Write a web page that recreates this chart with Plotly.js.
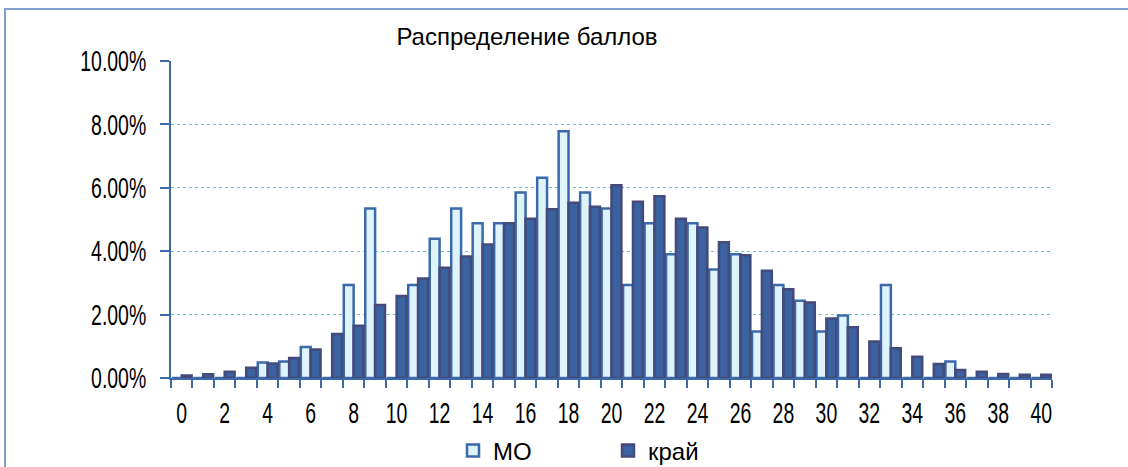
<!DOCTYPE html>
<html>
<head>
<meta charset="utf-8">
<script src="https://cdn.plot.ly/plotly-3.0.1.min.js"></script>
<style>
  body { margin: 0; background: #fff; }
  #wrap { position: relative; width: 1128px; height: 467px; }
  #plotArea { width: 1128px; height: 467px; }
  #frame { position: absolute; left: 4px; top: 8px; width: 1130px; height: 470px;
           border-top: 2px solid #7f9fcf; border-left: 2px solid #7f9fcf; pointer-events: none; }
</style>
</head>
<body>
<div id="wrap">
  <div id="plotArea"></div>
  <div id="frame"></div>
</div>
<script>
// баллы 0..40
var scores = [0, 1, 2, 3, 4, 5, 6, 7, 8, 9, 10, 11, 12, 13, 14, 15, 16, 17, 18, 19, 20,
              21, 22, 23, 24, 25, 26, 27, 28, 29, 30, 31, 32, 33, 34, 35, 36, 37, 38, 39, 40];

// доля участников, % (МО)
var moValues = [0, 0, 0, 0, 0.49, 0.52, 0.98, 0, 2.93, 5.35, 0, 2.93, 4.39, 5.35, 4.88, 4.88,
                5.85, 6.32, 7.78, 5.85, 5.35, 2.93, 4.88, 3.90, 4.88, 3.42, 3.90, 1.47, 2.93, 2.44,
                1.47, 1.97, 0, 2.93, 0, 0, 0.52, 0, 0, 0, 0];

// доля участников, % (край)
var kraiValues = [0.08, 0.12, 0.2, 0.32, 0.46, 0.63, 0.9, 1.39, 1.65, 2.3, 2.59, 3.14, 3.48, 3.83,
                  4.21, 4.88, 5.02, 5.32, 5.53, 5.4, 6.08, 5.56, 5.73, 5.02, 4.75, 4.28, 3.87, 3.38,
                  2.8, 2.38, 1.88, 1.6, 1.15, 0.94, 0.67, 0.44, 0.25, 0.2, 0.13, 0.1, 0.1];

var yTicks = [0, 2, 4, 6, 8, 10];
var yTickText = yTicks.map(function (v) { return v.toFixed(2) + '%'; });

var sans = '"Liberation Sans", Arial, sans-serif';
var axisBlue = '#3b69a9';

var traceMO = {
  x: scores,
  y: moValues,
  type: 'bar',
  name: 'МО',
  marker: { color: '#dff4fa', line: { color: '#3b69a9', width: 2.5 } }
};

var traceKrai = {
  x: scores,
  y: kraiValues,
  type: 'bar',
  name: 'край',
  marker: { color: '#3a62a1', line: { color: '#444a79', width: 2.5 } }
};

var layout = {
  width: 1128,
  height: 467,
  margin: { l: 171, r: 76, t: 61, b: 89 },
  paper_bgcolor: '#ffffff',
  plot_bgcolor: '#ffffff',
  barmode: 'group',
  bargap: 0.08,
  bargroupgap: 0,
  showlegend: true,
  title: {
    text: 'Распределение баллов',
    font: { family: sans, size: 24, color: '#000' },
    x: 527 / 1128, xref: 'container', xanchor: 'center',
    y: 1 - 37 / 467, yref: 'container', yanchor: 'middle'
  },
  xaxis: {
    type: 'linear',
    range: [-0.5, 40.5],
    tick0: 0,
    dtick: 2,
    ticks: '',
    ticklabelstandoff: 8,
    showgrid: false,
    zeroline: false,
    showline: true,
    linecolor: axisBlue,
    linewidth: 2,
    tickfont: { family: sans, size: 29, color: '#000' },
    minor: { ticks: 'outside', tick0: -0.5, dtick: 1, ticklen: 8, tickwidth: 2, tickcolor: axisBlue, showgrid: false }
  },
  yaxis: {
    range: [0, 10],
    tickmode: 'array',
    tickvals: yTicks,
    ticktext: yTickText,
    ticks: 'outside',
    ticklen: 9,
    tickwidth: 2,
    tickcolor: axisBlue,
    ticklabelstandoff: 8,
    showline: true,
    linecolor: axisBlue,
    linewidth: 2,
    zeroline: false,
    showgrid: true,
    gridcolor: '#62c3da',
    griddash: 'dot',
    gridwidth: 1,
    tickfont: { family: sans, size: 29, color: '#000' }
  },
  legend: {
    orientation: 'h',
    xref: 'container', yref: 'container',
    x: 453 / 1128, xanchor: 'left',
    y: 1 - 451 / 467, yanchor: 'middle',
    entrywidth: 110,
    itemwidth: 30,
    font: { family: sans, size: 24, color: '#000' },
    bgcolor: 'rgba(0,0,0,0)'
  }
};

Plotly.newPlot('plotArea', [traceMO, traceKrai], layout, { staticPlot: true }).then(function (gd) {
  // tick labels in the original are a tall narrow face: squeeze them horizontally
  gd.querySelectorAll('.xtick text, .ytick text').forEach(function (t) {
    var w = t.getComputedTextLength();
    t.setAttribute('textLength', (w * 0.67).toFixed(1));
    t.setAttribute('lengthAdjust', 'spacingAndGlyphs');
  });
});
</script>
</body>
</html>
